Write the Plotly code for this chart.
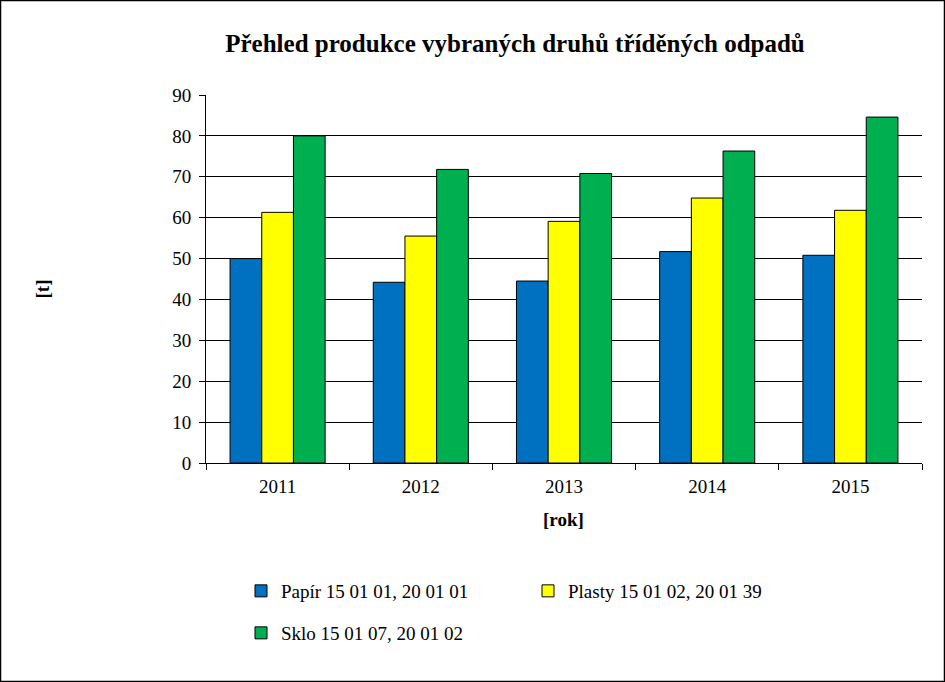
import plotly.graph_objects as go

# data
roky = ["2011", "2012", "2013", "2014", "2015"]
papir = [50.0, 44.2, 44.5, 51.7, 50.8]
plasty = [61.3, 55.5, 59.1, 64.8, 61.8]
sklo = [80.0, 71.8, 70.8, 76.3, 84.6]

nazvy = ["Papír 15 01 01, 20 01 01", "Plasty 15 01 02, 20 01 39", "Sklo 15 01 07, 20 01 02"]
barvy = ["#0070C0", "#FFFF00", "#00B050"]
legendy = ["legend", "legend", "legend2"]

W, H = 945, 682
ML, MR, MT, MB = 206, 23, 95, 219
pw, ph = W - ML - MR, H - MT - MB

FONT = "Liberation Serif, Times New Roman, serif"

fig = go.Figure()
for name, vals, col, lg in zip(nazvy, [papir, plasty, sklo], barvy, legendy):
    fig.add_trace(go.Bar(
        x=roky, y=vals, name=name, legend=lg,
        marker=dict(color=col, line=dict(color="black", width=1)),
    ))

leg_common = dict(orientation="h", xanchor="left", yanchor="middle",
                  entrywidth=242, entrywidthmode="pixels",
                  font=dict(family=FONT, size=19), traceorder="normal",
                  itemwidth=30, bgcolor="rgba(0,0,0,0)")

fig.update_layout(
    width=W, height=H,
    margin=dict(l=ML, r=MR, t=MT, b=MB),
    paper_bgcolor="white", plot_bgcolor="white",
    font=dict(family=FONT, size=19, color="black"),
    barmode="group", bargap=0.336, bargroupgap=0,
    title=dict(text="<b>Přehled produkce vybraných druhů tříděných odpadů</b>",
               x=(515 - ML) / pw, xref="paper", xanchor="center",
               y=1 - 43 / H, yref="container", yanchor="middle",
               font=dict(family=FONT, size=25, color="black")),
    showlegend=True,
    legend=dict(x=(241 - ML) / pw, y=(463 - 591) / ph, **leg_common),
    legend2=dict(x=(241 - ML) / pw, y=(463 - 633) / ph, **leg_common),
)

fig.update_xaxes(
    type="category", showline=True, linecolor="black", linewidth=1,
    ticks="outside", tickson="boundaries", ticklen=6, tickcolor="black",
    showgrid=False, tickfont=dict(size=19), ticklabelstandoff=6,
)
fig.update_yaxes(
    range=[0, 90], dtick=10, showline=True, linecolor="black", linewidth=1,
    ticks="outside", ticklen=6, tickcolor="black",
    showgrid=True, gridcolor="black", gridwidth=1, zeroline=False,
    tickfont=dict(size=19), ticklabelstandoff=4,
)

# axis titles
fig.add_annotation(text="<b>[t]</b>", xref="paper", yref="paper",
                   x=(29 - ML) / pw, y=(463 - 289) / ph, textangle=-90,
                   showarrow=False, font=dict(size=19))
fig.add_annotation(text="<b>[rok]</b>", xref="paper", yref="paper",
                   x=(563 - ML) / pw, y=(463 - 532) / ph,
                   showarrow=False, font=dict(size=19))

# outer border of the chart
fig.add_shape(type="rect", xref="paper", yref="paper", layer="above",
              x0=(0.5 - ML) / pw, x1=(W - 0.5 - ML) / pw,
              y0=-(MB - 0.5) / ph, y1=1 + (MT - 0.5) / ph,
              line=dict(color="black", width=1.5))

fig.write_html("out.html", config={"displayModeBar": False},
               post_script="document.body.style.margin='0';")
